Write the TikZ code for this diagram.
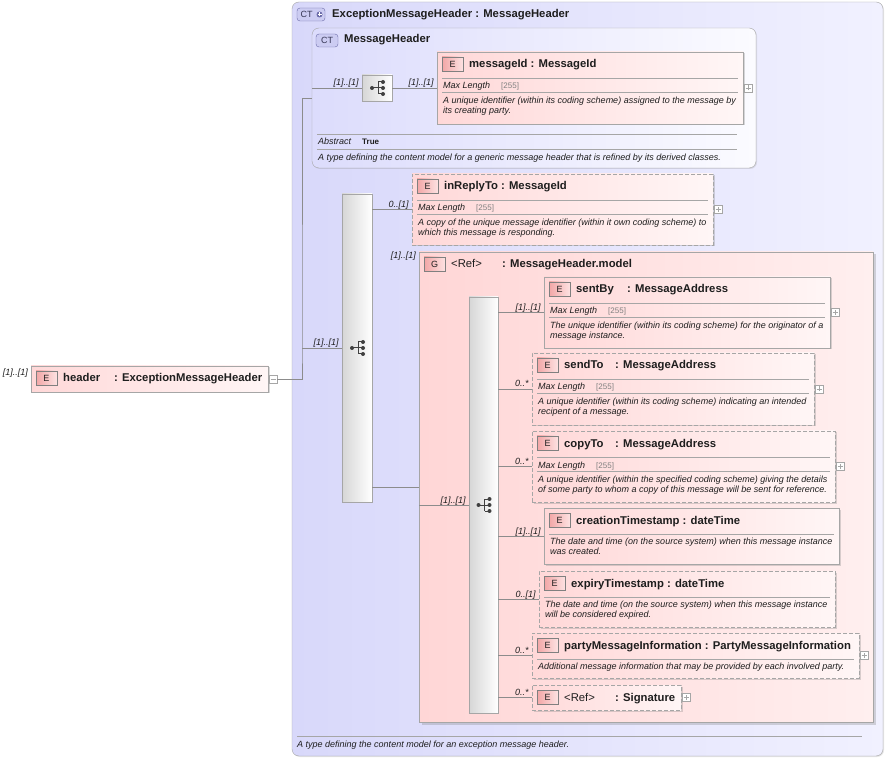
\documentclass[tikz,border=0pt]{standalone}
\usepackage{fontspec}
\setmainfont{Liberation Sans}
\usetikzlibrary{shadows}
\definecolor{ctleft}{HTML}{D8D8FA}
\definecolor{ctright}{HTML}{F1F1FF}
\definecolor{mhleft}{HTML}{DCDCFC}
\definecolor{mhright}{HTML}{FBFBFF}
\definecolor{elleft}{HTML}{FFD8D8}
\definecolor{elright}{HTML}{FFF6F6}
\definecolor{grleft}{HTML}{FFD6D6}
\definecolor{grright}{HTML}{FFEFEF}
\definecolor{bdleft}{HTML}{F2A6A6}
\definecolor{bdright}{HTML}{FDE2E2}
\definecolor{seqleft}{HTML}{D6D6D6}
\definecolor{frame}{HTML}{A6A6A6}
\definecolor{wire}{HTML}{8C8C8C}
\definecolor{ink}{HTML}{1E1E1E}
\definecolor{icon}{HTML}{404040}
\definecolor{ctbadge}{HTML}{CCCCF2}
\definecolor{ctedge}{HTML}{6B6BA8}
\begin{document}
\begin{tikzpicture}[x=1pt,y=-1pt,
  box/.style={anchor=north west,inner sep=0pt,outer sep=0pt},
  ct node/.style={box,draw=frame,rounded corners=7pt,left color=ctleft,right color=ctright,
    drop shadow={shadow xshift=1pt,shadow yshift=-1pt,opacity=.2}},
  mh node/.style={ct node,left color=mhleft,right color=mhright},
  el node/.style={box,draw=frame,left color=elleft,right color=elright,
    drop shadow={shadow xshift=1.5pt,shadow yshift=-1.5pt,opacity=.3}},
  opt node/.style={el node,dash pattern=on 4pt off 2pt},
  grp node/.style={box,draw=frame,left color=grleft,right color=grright,
    drop shadow={shadow xshift=2.5pt,shadow yshift=-2.5pt,opacity=.3}},
  seq node/.style={box,draw=frame,left color=seqleft,right color=white,
    path picture={
      \coordinate (pc) at (path picture bounding box.center);
      \draw[icon,line width=1pt] ([xshift=-5pt]pc) -- ([xshift=1pt]pc)
        ([xshift=1pt,yshift=6pt]pc) -- ([xshift=1pt,yshift=-6pt]pc);
      \foreach \dy in {-6,0,6}{
        \draw[icon,line width=1pt] ([xshift=1pt,yshift=\dy pt]pc) -- ([xshift=6pt,yshift=\dy pt]pc);
        \fill[icon] ([xshift=6pt,yshift=\dy pt]pc) circle (2pt);}
      \fill[icon] ([xshift=-5pt]pc) circle (2pt);}},
  e badge/.style={box,draw=gray,left color=bdleft,right color=bdright,minimum width=21pt,
    minimum height=14pt,font=\fontsize{9}{10}\selectfont,text=ink},
  ct badge/.style={box,draw=ctedge,rounded corners=3pt,fill=ctbadge,minimum height=13pt,
    font=\fontsize{9}{10}\selectfont,text=ctedge!50!black},
  title/.style={anchor=base west,inner sep=0pt,font=\fontsize{11.3}{13}\selectfont\bfseries,text=ink},
  info/.style={anchor=base west,inner sep=0pt,font=\fontsize{9}{10}\selectfont\itshape,text=ink},
  facet/.style={anchor=base west,inner sep=0pt,font=\fontsize{8}{10}\selectfont,text=gray},
  desc/.style={anchor=north west,inner sep=0pt,align=left,font=\fontsize{9}{10}\selectfont\itshape,text=ink},
  card/.style={anchor=base east,inner sep=0pt,font=\fontsize{9}{10}\selectfont\itshape,text=ink},
  end card/.style={card,pos=1,xshift=-3pt,yshift=2pt},
  sep/.style={draw=frame,line width=.8pt},
  wire/.style={draw=wire,line width=.8pt},
  toggle/.style={anchor=west,inner sep=0pt,draw=frame,fill=white,minimum size=8pt,xshift=1pt},
  plus/.style={toggle,path picture={
    \draw[frame] ([xshift=-2.5pt]path picture bounding box.center) -- ([xshift=2.5pt]path picture bounding box.center)
      ([yshift=-2.5pt]path picture bounding box.center) -- ([yshift=2.5pt]path picture bounding box.center);}},
  minus/.style={toggle,path picture={
    \draw[frame] ([xshift=-2.5pt]path picture bounding box.center) -- ([xshift=2.5pt]path picture bounding box.center);}}]

  \useasboundingbox[fill=white] (0,0) rectangle (887,759);

  % complex type ExceptionMessageHeader
  \node[ct node,minimum width=591pt,minimum height=754pt] (ct0) at (292,2) {};
  \node[ct badge,minimum width=28pt,align=left] (ct0b) at (297,8) {CT\hspace{9pt}};
  \node[circle,fill=ctedge,inner sep=0pt,minimum size=6pt,
    path picture={\draw[white,line width=.8pt] ([xshift=-2pt]path picture bounding box.center) -- ([xshift=2pt]path picture bounding box.center)
      ([yshift=-2pt]path picture bounding box.center) -- ([yshift=2pt]path picture bounding box.center);}]
    (ct0p) at (319.5,14.5) {};
  \node[title] (ct0t) at (332,18) {ExceptionMessageHeader : MessageHeader};
  \draw[sep] (297,736) -- (862,736);
  \node[info] (ct0d) at (297,747) {A type defining the content model for an exception message header.};

  % complex type MessageHeader
  \node[mh node,minimum width=444pt,minimum height=140pt] (mh) at (312,28) {};
  \node[ct badge,minimum width=22pt] (mhb) at (316,34) {CT};
  \node[title] (mht) at (344,43) {MessageHeader};
  \node[seq node,minimum width=30pt,minimum height=26pt] (seq0) at (362,75) {};
  \node[el node,minimum width=306pt,minimum height=72pt] (mid) at (437,52) {};
  \node[e badge] (midb) at (442,57) {E};
  \node[title] (midt) at (469,68) {messageId : MessageId};
  \draw[sep] (442,78) -- (738,78) (442,92) -- (738,92);
  \node[info] (midl) at (443,89) {Max Length};
  \node[facet] (midf) at (501,89) {[255]};
  \node[desc] (midd) at (443,96) {\strut A unique identifier (within its coding scheme) assigned to the message by\\its creating party.};
  \node[plus] (midp) at (mid.east) {};
  \draw[sep] (317,134) -- (737,134) (317,149) -- (737,149);
  \node[info] (mha) at (318,145) {Abstract};
  \node[anchor=base west,inner sep=0pt,font=\fontsize{8}{10}\selectfont\bfseries,text=ink] (mhv) at (362,145) {True};
  \node[info] (mhd) at (318,161) {A type defining the content model for a generic message header that is refined by its derived classes.};

  % element header
  \node[el node,minimum width=237pt,minimum height=26pt] (hdr) at (31,366) {};
  \node[e badge] (hdrb) at (36,371) {E};
  \node[title] (hdrt) at (63,382) {\makebox[51pt][l]{header}: ExceptionMessageHeader};
  \node[minus] (hminus) at (hdr.east) {};
  \node[card] (hdrc) at (28,376) {[1]..[1]};

  % extension sequence
  \node[seq node,minimum width=30pt,minimum height=308pt] (bar1) at (342,194) {};
  \node[opt node,minimum width=301pt,minimum height=71pt] (irt) at (412,174) {};
  \node[e badge] (irtb) at (417,179) {E};
  \node[title] (irtt) at (444,190) {inReplyTo : MessageId};
  \draw[sep] (417,200) -- (708,200) (417,214) -- (708,214);
  \node[info] (irtl) at (418,211) {Max Length};
  \node[facet] (irtf) at (476,211) {[255]};
  \node[desc] (irtd) at (418,218) {\strut A copy of the unique message identifier (within it own coding scheme) to\\which this message is responding.};
  \node[plus] (irtp) at (irt.east) {};

  % group MessageHeader.model
  \node[grp node,minimum width=454pt,minimum height=470pt] (grp) at (419,252) {};
  \node[e badge] (grpb) at (424,257) {G};
  \node[title] (grpt) at (451,268) {\makebox[51pt][l]{\mdseries <Ref>}: MessageHeader.model};
  \node[card] (grpc) at (416,259) {[1]..[1]};
  \node[seq node,minimum width=29pt,minimum height=416pt] (ibar) at (469,297) {};

  \node[el node,minimum width=286pt,minimum height=71pt] (sby) at (544,277) {};
  \node[e badge] (sbyb) at (549,282) {E};
  \node[title] (sbyt) at (576,293) {\makebox[51pt][l]{sentBy}: MessageAddress};
  \draw[sep] (549,303) -- (825,303) (549,317) -- (825,317);
  \node[info] (sbyl) at (550,314) {Max Length};
  \node[facet] (sbyf) at (608,314) {[255]};
  \node[desc] (sbyd) at (550,321) {\strut The unique identifier (within its coding scheme) for the originator of a\\message instance.};
  \node[plus] (sbyp) at (sby.east) {};

  \node[opt node,minimum width=282pt,minimum height=72pt] (sto) at (532,353) {};
  \node[e badge] (stob) at (537,358) {E};
  \node[title] (stot) at (564,369) {\makebox[51pt][l]{sendTo}: MessageAddress};
  \draw[sep] (537,379) -- (809,379) (537,393) -- (809,393);
  \node[info] (stol) at (538,390) {Max Length};
  \node[facet] (stof) at (596,390) {[255]};
  \node[desc] (stod) at (538,397) {\strut A unique identifier (within its coding scheme) indicating an intended\\recipent of a message.};
  \node[plus] (stop) at (sto.east) {};

  \node[opt node,minimum width=303pt,minimum height=71pt] (cto) at (532,431) {};
  \node[e badge] (ctob) at (537,436) {E};
  \node[title] (ctot) at (564,447) {\makebox[51pt][l]{copyTo}: MessageAddress};
  \draw[sep] (537,457) -- (830,457) (537,471) -- (830,471);
  \node[info] (ctol) at (538,468) {Max Length};
  \node[facet] (ctof) at (596,468) {[255]};
  \node[desc] (ctod) at (538,475) {\strut A unique identifier (within the specified coding scheme) giving the details\\of some party to whom a copy of this message will be sent for reference.};
  \node[plus] (ctop) at (cto.east) {};

  \node[el node,minimum width=295pt,minimum height=56pt] (cts) at (544,508) {};
  \node[e badge] (ctsb) at (549,513) {E};
  \node[title] (ctst) at (576,524) {creationTimestamp : dateTime};
  \draw[sep] (549,534) -- (834,534);
  \node[desc] (ctsd) at (550,537) {\strut The date and time (on the source system) when this message instance\\was created.};

  \node[opt node,minimum width=296pt,minimum height=56pt] (ets) at (539,571) {};
  \node[e badge] (etsb) at (544,576) {E};
  \node[title] (etst) at (571,587) {expiryTimestamp : dateTime};
  \draw[sep] (544,597) -- (830,597);
  \node[desc] (etsd) at (545,600) {\strut The date and time (on the source system) when this message instance\\will be considered expired.};

  \node[opt node,minimum width=327pt,minimum height=45pt] (pmi) at (532,633) {};
  \node[e badge] (pmib) at (537,638) {E};
  \node[title] (pmit) at (564,649) {partyMessageInformation : PartyMessageInformation};
  \draw[sep] (537,659) -- (854,659);
  \node[info] (pmid) at (538,669) {Additional message information that may be provided by each involved party.};
  \node[plus] (pmip) at (pmi.east) {};

  \node[opt node,minimum width=149pt,minimum height=25pt] (sig) at (532,685) {};
  \node[e badge] (sigb) at (537,690) {E};
  \node[title] (sigt) at (564,701) {\makebox[51pt][l]{\mdseries <Ref>}: Signature};
  \node[plus] (sigp) at (sig.east) {};

  % connectors
  \coordinate (fork) at (302,348);
  \path[wire]
   (hminus.east) -| (fork) |- (mh.west)
   (fork) -- (bar1.west |- fork) node[end card]{[1]..[1]}
   (mh.west |- seq0.west) -- (seq0.west) node[end card]{[1]..[1]}
   (seq0.east) -- (mid.west) node[end card]{[1]..[1]}
   (bar1.east |- irt.west) -- (irt.west) node[end card]{0..[1]}
   (bar1.east |- grp.west) -- (grp.west)
   (grp.west |- ibar.west) -- (ibar.west) node[end card]{[1]..[1]}
   (ibar.east |- sby.west) -- (sby.west) node[end card]{[1]..[1]}
   (ibar.east |- sto.west) -- (sto.west) node[end card]{0..*}
   (ibar.east |- cto.west) -- (cto.west) node[end card]{0..*}
   (ibar.east |- cts.west) -- (cts.west) node[end card]{[1]..[1]}
   (ibar.east |- ets.west) -- (ets.west) node[end card]{0..[1]}
   (ibar.east |- pmi.west) -- (pmi.west) node[end card]{0..*}
   (ibar.east |- sig.west) -- (sig.west) node[end card]{0..*};
\end{tikzpicture}
\end{document}
